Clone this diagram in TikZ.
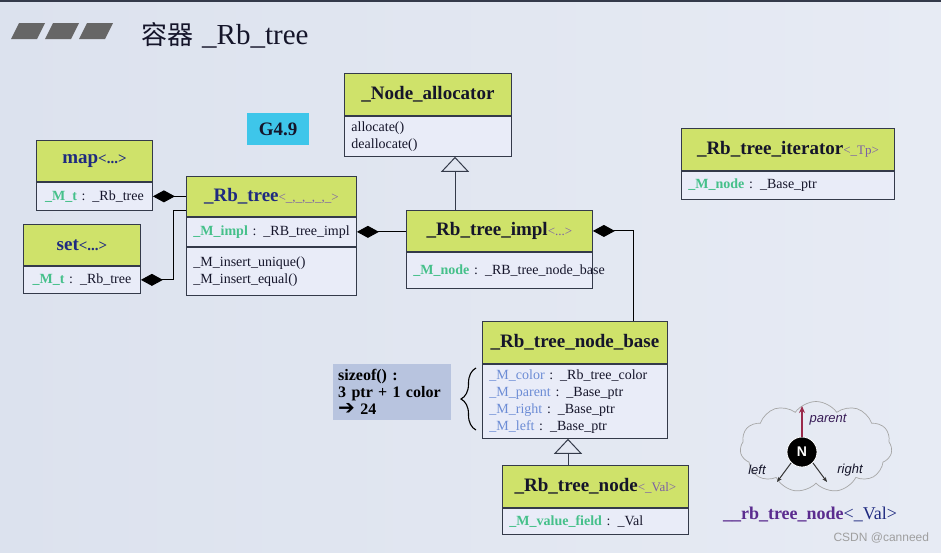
\documentclass[tikz,border=0pt]{standalone}
\usepackage{fontspec}
\setmainfont{Liberation Serif}
\newfontfamily\cjkfont{Noto Sans CJK SC}
\newfontfamily\djvfont{DejaVu Sans}
\newfontfamily\lsansfont{Liberation Sans}
\newfontfamily\titleserif{Liberation Serif}
\usetikzlibrary{arrows.meta,calc,shapes.symbols,decorations.pathreplacing}
\definecolor{bgl}{HTML}{DCE2EE}
\definecolor{bgr}{HTML}{E7EBF4}
\definecolor{hdrg}{HTML}{CFE26A}
\definecolor{bodyc}{HTML}{E9ECF8}
\definecolor{linec}{HTML}{343A4A}
\definecolor{navy}{HTML}{1F2A80}
\definecolor{darkc}{HTML}{15152A}
\definecolor{tmplc}{HTML}{7B5EA7}
\definecolor{attrgc}{HTML}{45C08A}
\definecolor{attrbc}{HTML}{6C8CD5}
\definecolor{cyanc}{HTML}{3EC6EA}
\definecolor{sizec}{HTML}{B8C4DF}
\definecolor{purp}{HTML}{5B2C8F}
\definecolor{redc}{HTML}{9A2A4A}
\newcommand\tmplarg[1]{{\mdseries\fontsize{13}{15}\selectfont\color{tmplc}#1}}
\newcommand\attrg[1]{{\color{attrgc}\bfseries #1}}
\newcommand\attrb[1]{{\color{attrbc}#1}}
\begin{document}
\begin{tikzpicture}[x=1pt,y=-1pt,
  hdr/.style={draw=linec, fill=hdrg, line width=0.9pt, anchor=north west, inner sep=0pt,
    font=\fontsize{19}{22}\selectfont\bfseries, text=darkc},
  bdy/.style={draw=linec, fill=bodyc, line width=0.9pt, anchor=north west, inner xsep=7pt,
    inner ysep=0pt, align=left, font=\fontsize{14}{17}\selectfont, text=darkc},
  dia/.style={arrows={{Diamond[length=22pt,width=12pt]}-}, line width=1pt, draw=black},
  inh/.style={arrows={-{Triangle[open,length=15pt,width=28pt]}}, line width=1pt, draw=linec},
  lbl/.style={font=\lsansfont\itshape\fontsize{13}{15}\selectfont}
]
\useasboundingbox (0,0) rectangle (941,552);
\shade[left color=bgl, right color=bgr] (0,0) rectangle (941,552);
\fill[linec] (0,0) rectangle (941,2);
% title marks
\foreach \xx in {11,45,79}{
  \fill[gray!80!black] (\xx,39) -- (\xx+8,23) -- (\xx+34,23) -- (\xx+26,39) -- cycle;
}
\node[anchor=west, inner sep=0pt, text=darkc] (title) at (141,35)
  {{\cjkfont\fontsize{26}{30}\selectfont 容器}\hspace{9pt}{\titleserif\fontsize{29}{32}\selectfont\_Rb\_tree}};

% G4.9
\node[fill=cyanc, minimum width=62pt, minimum height=32pt, anchor=north west, inner sep=0pt,
  font=\fontsize{19}{22}\selectfont\bfseries, text=darkc] (g49) at (247,113) {G4.9};

% _Node_allocator
\node[hdr, minimum width=167pt, minimum height=42pt] (alloch) at (344,73) {\_Node\_allocator};
\node[bdy, text width=153pt, minimum height=40pt] (allocb) at (alloch.south west) {allocate()\\deallocate()};

% map
\node[hdr, minimum width=116pt, minimum height=41pt, text=navy] (maph) at (36,140) {map{\fontsize{15}{17}\selectfont<...>}};
\node[bdy, text width=102pt, minimum height=28pt, align=center] (mapb) at (maph.south west) {\attrg{\_M\_t} : \_Rb\_tree};

% set
\node[hdr, minimum width=117pt, minimum height=41pt, text=navy] (seth) at (23,224) {set{\fontsize{15}{17}\selectfont<...>}};
\node[bdy, text width=103pt, minimum height=27pt, align=center] (setb) at (seth.south west) {\attrg{\_M\_t} : \_Rb\_tree};

% _Rb_tree
\node[hdr, minimum width=170pt, minimum height=40pt, text=navy] (rbh) at (186,176) {\_Rb\_tree\tmplarg{<\_,\_,\_,\_,\_>}};
\node[bdy, text width=156pt, minimum height=29pt] (rba) at (rbh.south west) {\mbox{\attrg{\_M\_impl} : \_RB\_tree\_impl}};
\node[bdy, text width=156pt, minimum height=48pt] (rbm) at (rba.south west) {\_M\_insert\_unique()\\\_M\_insert\_equal()};

% _Rb_tree_impl
\node[hdr, minimum width=186pt, minimum height=41pt] (implh) at (406,210) {\_Rb\_tree\_impl\tmplarg{<...>}};
\node[bdy, text width=172pt, minimum height=36pt] (implb) at (implh.south west) {\mbox{\attrg{\_M\_node} : \_RB\_tree\_node\_base}};

% _Rb_tree_iterator
\node[hdr, minimum width=213pt, minimum height=42pt] (iterh) at (681,128) {\_Rb\_tree\_iterator\tmplarg{<\_Tp>}};
\node[bdy, text width=199pt, minimum height=28pt] (iterb) at (iterh.south west) {\mbox{\attrg{\_M\_node} : \_Base\_ptr}};

% _Rb_tree_node_base
\node[hdr, minimum width=185pt, minimum height=42pt] (nbh) at (482,321) {\_Rb\_tree\_node\_base};
\node[bdy, text width=171pt, minimum height=74pt] (nbb) at (nbh.south west)
  {\mbox{\attrb{\_M\_color} : \_Rb\_tree\_color}\\\mbox{\attrb{\_M\_parent} : \_Base\_ptr}\\\mbox{\attrb{\_M\_right} : \_Base\_ptr}\\\mbox{\attrb{\_M\_left} : \_Base\_ptr}};

% _Rb_tree_node
\node[hdr, minimum width=186pt, minimum height=42pt] (ndh) at (502,465) {\_Rb\_tree\_node\tmplarg{<\_Val>}};
\node[bdy, text width=172pt, minimum height=26pt] (ndb) at (ndh.south west) {\mbox{\attrg{\_M\_value\_field} : \_Val}};

% sizeof
\node[fill=sizec, minimum width=118pt, minimum height=56pt, anchor=north west, inner xsep=5pt, inner ysep=0pt,
  text width=108pt, align=left, font=\fontsize{16}{17}\selectfont\bfseries, text=black] (sz) at (333,364)
  {sizeof() :\\3 ptr + 1 color\\{\djvfont\bfseries\fontsize{20}{17}\selectfont ➔}\ 24};
\draw[decorate, decoration={brace, amplitude=15pt}, line width=1.1pt] (476,430) -- (476,368);

% connectors
\draw[dia] (mapb.east) -- (mapb.east -| rbh.west);
\coordinate (setjoin) at ($(rbh.south west)+(0,-6)$);
\draw[dia] (setb.east) -- ($(setb.east)+(33,0)$) |- (setjoin);
\draw[dia] (rba.east) -- (rba.east -| implh.west);
\draw[inh] ($(implh.north west)+(49,0)$) -- ($(allocb.south west)+(111,0)$);
\draw[dia] (implh.east) -| ($(nbh.north west)+(151,0)$);
\draw[inh] ($(ndh.north west)+(66,0)$) -- ($(nbb.south west)+(86,0)$);

% cloud
\node[cloud, cloud puffs=11, cloud puff arc=110, aspect=1.65, draw=gray!70, line width=0.7pt,
  minimum width=152pt, minimum height=91pt, inner sep=0pt] (cloud) at (816,447) {};
\node[circle, fill=black, draw=white, line width=0.8pt, minimum size=30pt, inner sep=0pt, text=white,
  font=\lsansfont\bfseries\fontsize{14}{16}\selectfont] (nn) at (802,452) {N};
\coordinate (ptip) at (802,406);
\coordinate (ltip) at (777,482);
\coordinate (rtip) at (827,482);
\draw[redc, line width=1.2pt, -{Stealth[length=7pt,width=6pt]}] (nn.north) -- (ptip);
\draw[gray!40!black, line width=1pt, -{Stealth[length=5pt,width=4pt]}] (nn.south west) -- (ltip);
\draw[gray!40!black, line width=1pt, -{Stealth[length=5pt,width=4pt]}] (nn.south east) -- (rtip);
\node[lbl, text=purp!60!black, anchor=west] (pl) at (806,420) {parent};
\node[lbl, text=darkc] (ll) at (757,470) {left};
\node[lbl, text=darkc] (rl) at (850,470) {right};
\node[font=\fontsize{18}{20}\selectfont, text=navy] (rbn) at (810,514)
  {{\bfseries\color{purp}\_\_rb\_tree\_node}<\_Val>};

% watermark
\node[font=\lsansfont\fontsize{12}{14}\selectfont, text=gray!75, anchor=west] (wm) at (830,538) {CSDN @canneed};
\end{tikzpicture}
\end{document}
